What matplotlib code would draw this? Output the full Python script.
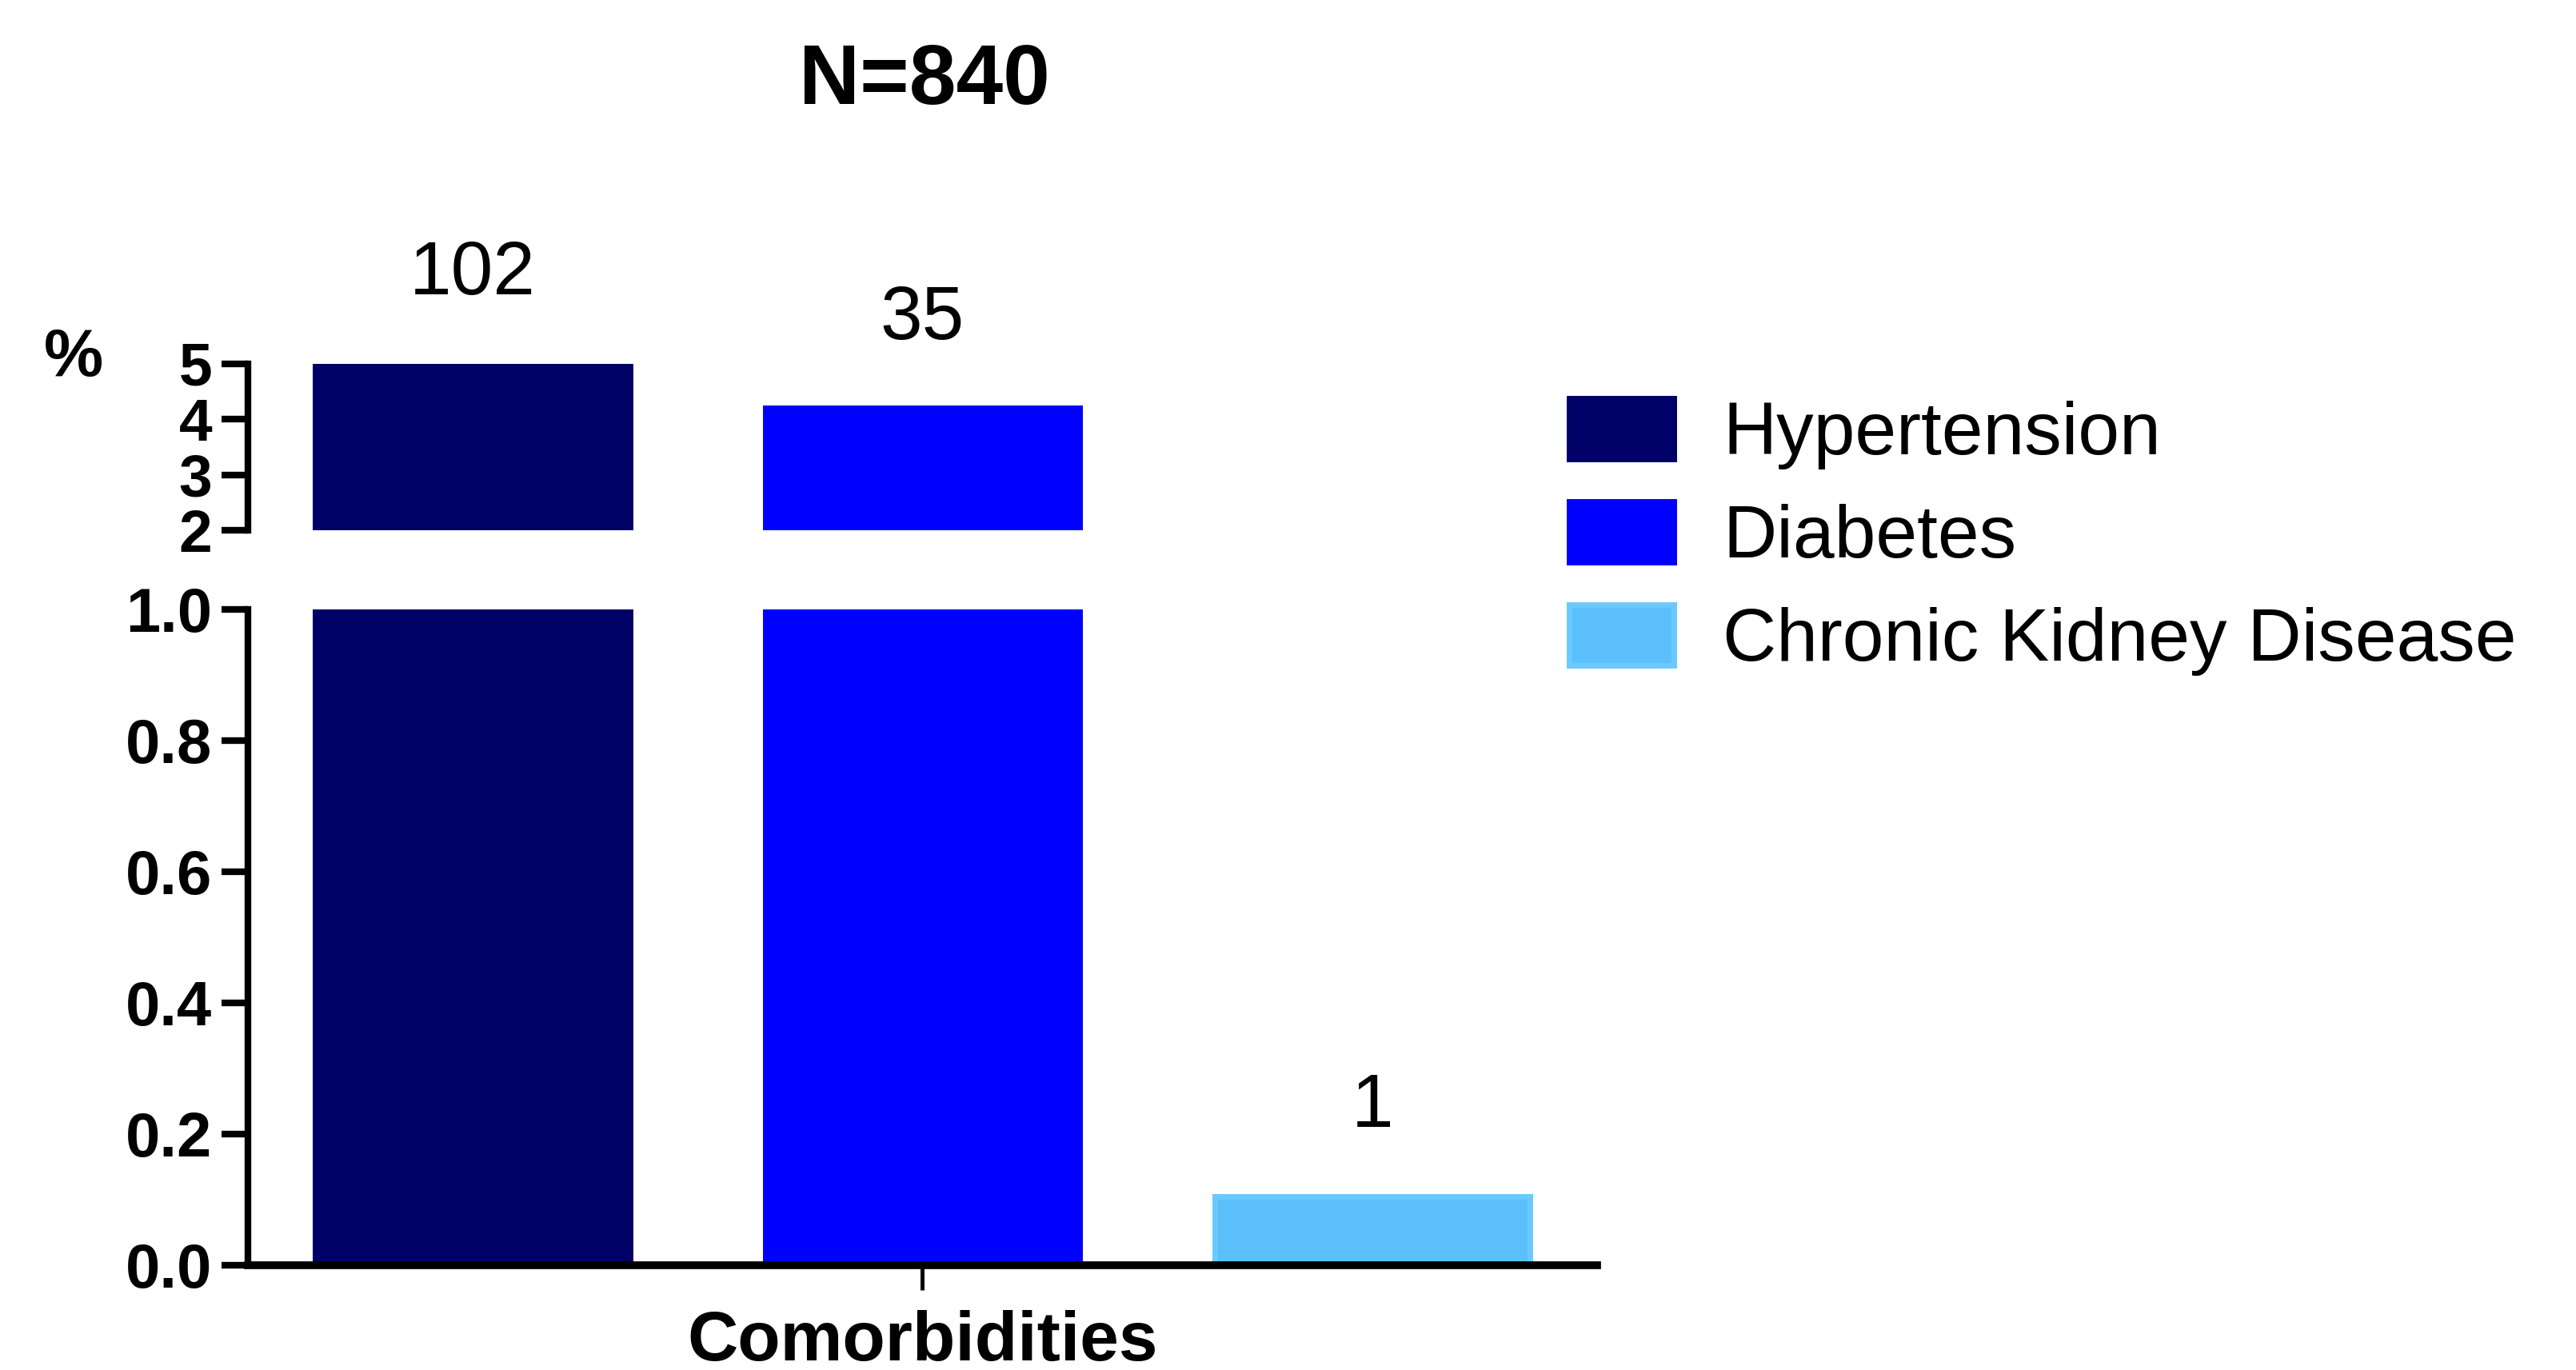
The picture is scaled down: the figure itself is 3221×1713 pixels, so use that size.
"""Comorbidities bar chart (N=840) with a broken y axis."""

import matplotlib
matplotlib.use("Agg")
import matplotlib.pyplot as plt
from matplotlib.patches import Patch

plt.rcParams['font.family'] = ['Liberation Sans', 'DejaVu Sans']

# data
categories = ['Hypertension', 'Diabetes', 'Chronic Kidney Disease']
counts = [102, 35, 1]
percent = [12.1, 4.2, 0.105]
colors = ['#000066', '#0000FF', '#5ABFFA']
edge_colors = ['#000066', '#0000FF', '#6ACAFF']
title = 'N=840'
xlabel = 'Comorbidities'
upper_ticks = [2, 3, 4, 5]
lower_ticks = [0.0, 0.2, 0.4, 0.6, 0.8, 1.0]

fig = plt.figure(figsize=(16.105, 8.565), dpi=200)
ax_top = fig.add_axes([0.0962, 0.6130, 0.5238, 0.1214])
ax_bot = fig.add_axes([0.0962, 0.0765, 0.5238, 0.4787])

x = list(range(len(categories)))
for ax in (ax_top, ax_bot):
    ax.bar(x, percent, width=0.7, color=colors, edgecolor=edge_colors, linewidth=2.5)
    ax.set_xlim(-0.5, 2.5)
    for s in ('top', 'right'):
        ax.spines[s].set_visible(False)
    ax.spines['left'].set_linewidth(3)
    ax.tick_params(axis='y', which='major', direction='out', length=12,
                   width=3, pad=4)
    # small cap on the inside where the axis is broken
    ax.tick_params(axis='y', which='minor', direction='in', length=7, width=3)

# upper segment: 2..5
ax_top.set_ylim(2, 5)
ax_top.set_yticks(upper_ticks)
ax_top.set_yticklabels([str(v) for v in upper_ticks], fontsize=27, fontweight='bold')
ax_top.set_yticks([2], minor=True)
ax_top.spines['bottom'].set_visible(False)
ax_top.tick_params(axis='x', bottom=False, labelbottom=False)

# lower segment: 0..1
ax_bot.set_ylim(0, 1)
ax_bot.set_yticks(lower_ticks)
ax_bot.set_yticklabels([f'{v:.1f}' for v in lower_ticks], fontsize=28, fontweight='bold')
ax_bot.set_yticks([1.0], minor=True)
ax_bot.spines['bottom'].set_linewidth(3.5)
ax_bot.set_xticks([1])
ax_bot.set_xticklabels([xlabel], fontsize=31.5, fontweight='bold')
ax_bot.tick_params(axis='x', direction='out', length=11, width=1.8, pad=9)

# count labels above the visible top of each bar
for i, (p, c) in enumerate(zip(percent, counts)):
    if p > 2:
        ax, top = ax_top, min(p, 5)
    else:
        ax, top = ax_bot, min(p, 1)
    ax.annotate(str(c), xy=(i, top), xytext=(0, 40), textcoords='offset points',
                ha='center', va='center', fontsize=34, annotation_clip=False)

fig.text(0.359, 0.940, title, ha='center', va='center', fontsize=38, fontweight='bold')
fig.text(0.0286, 0.7385, '%', ha='center', va='center', fontsize=30, fontweight='bold')

handles = [Patch(facecolor=c, edgecolor=e, linewidth=2.5) for c, e in zip(colors, edge_colors)]
fig.legend(handles, categories, loc='upper left', bbox_to_anchor=(0.609, 0.709),
           frameon=False, fontsize=33.5, handlelength=1.41, handleheight=0.87,
           handletextpad=0.66, labelspacing=0.43, borderpad=0, borderaxespad=0)

fig.savefig('out.png', dpi=200)
plt.close(fig)
